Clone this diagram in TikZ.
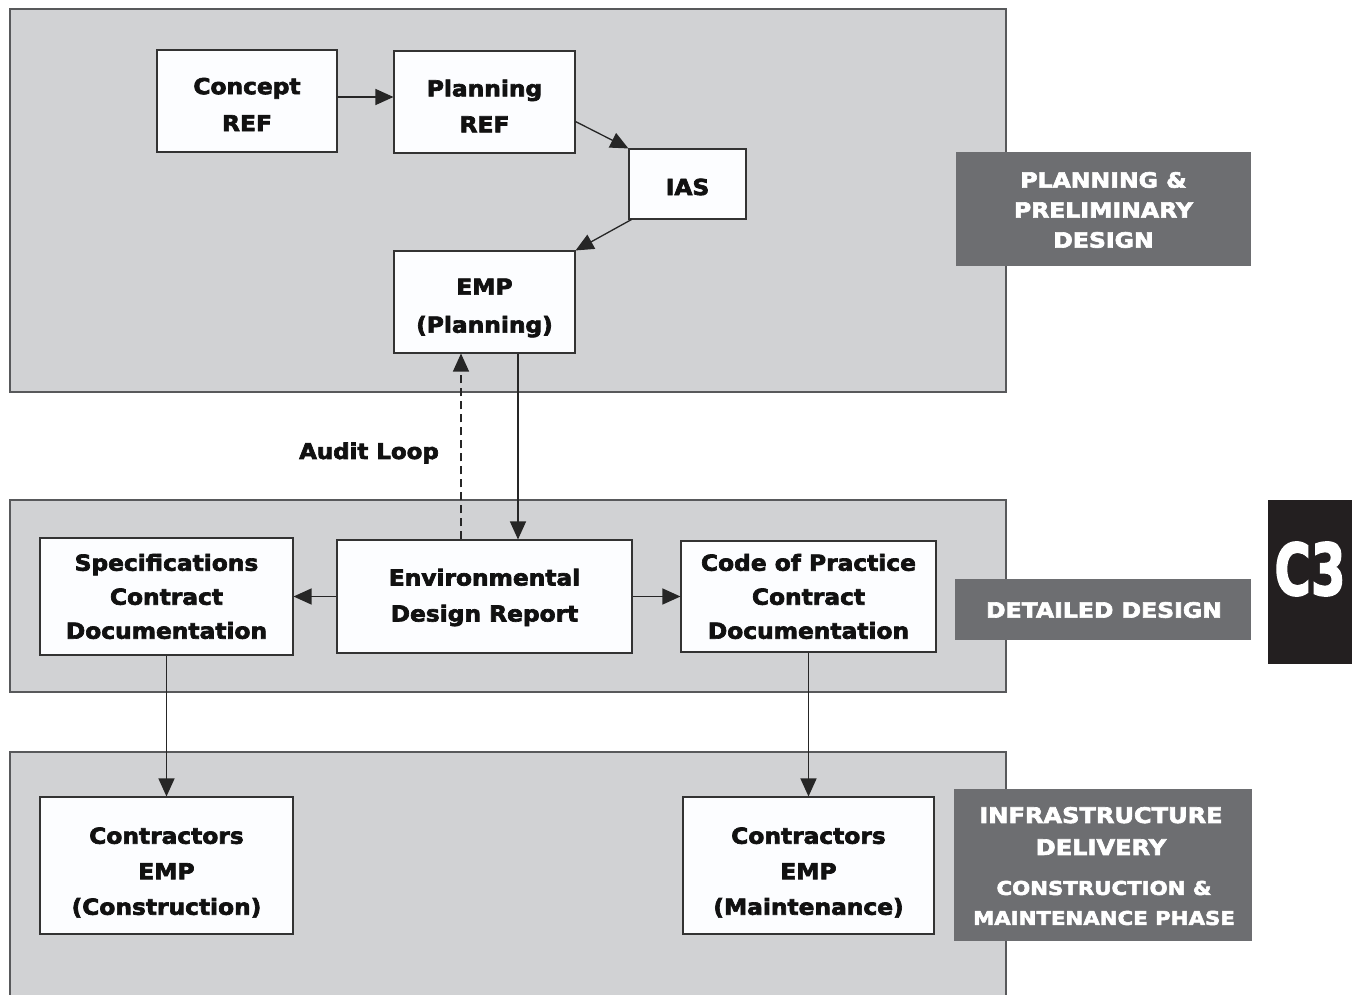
\documentclass[tikz,border=0pt]{standalone}
\usepackage{fontspec}
\usepackage{graphicx}
\setmainfont[FakeStretch=1.06,BoldFeatures={FakeBold=3}]{DejaVu Sans}
\newfontfamily\tagfont[FakeStretch=1.12,BoldFeatures={FakeBold=3}]{DejaVu Sans}
\usetikzlibrary{arrows.meta,calc}
\definecolor{panel}{HTML}{D1D2D4}
\definecolor{panelline}{HTML}{58595B}
\definecolor{tag}{HTML}{6D6E71}
\definecolor{boxfill}{HTML}{FCFDFF}
\definecolor{ink}{HTML}{111111}
\definecolor{tabblack}{HTML}{231F20}
\begin{document}
\begin{tikzpicture}[x=1pt,y=-1pt,
  panelbox/.style={fill=panel,draw=panelline,line width=1.2pt},
  boxnode/.style={draw=black!80,line width=1.1pt,fill=boxfill,inner sep=0pt},
  boxtext/.style={align=center,text=ink,inner sep=0pt,font=\fontsize{22}{36}\selectfont\bfseries},
  tagnode/.style={fill=tag,inner sep=0pt},
  tagtext/.style={text=white,align=center,inner sep=0pt},
  arr/.style={line width=1.3pt,draw=black!85,-{Triangle[length=18pt,width=16pt]}},
  dasharr/.style={arr,dash pattern=on 8pt off 5pt}]
\useasboundingbox (0,0) rectangle (1359,995);
\fill[white] (0,0) rectangle (1359,995);
% panels
\draw[panelbox] (10,9) rectangle (1006,392);
\draw[panelbox] (10,500) rectangle (1006,692);
\fill[panel] (10,752) rectangle (1006,995);
\draw[panelline,line width=1.2pt] (10,995) -- (10,752) -- (1006,752) -- (1006,995);
% boxes
\node[boxnode,minimum width=180pt,minimum height=102pt,
  label={[boxtext,font=\fontsize{22}{37}\selectfont\bfseries,yshift=-3.5pt]center:Concept\\REF}] (concept) at (247,101) {};
\node[boxnode,minimum width=181pt,minimum height=102pt,
  label={[boxtext,yshift=-4pt]center:Planning\\REF}] (pref) at (484.5,102) {};
\node[boxnode,minimum width=117pt,minimum height=70pt,
  label={[boxtext,yshift=-3pt]center:IAS}] (ias) at (687.5,184) {};
\node[boxnode,minimum width=181pt,minimum height=102pt,
  label={[boxtext,font=\fontsize{22}{38}\selectfont\bfseries,yshift=-6pt]center:EMP\\(Planning)}] (emp) at (484.5,302) {};
\node[boxnode,minimum width=295pt,minimum height=113pt,
  label={[boxtext,yshift=-1pt]center:Environmental\\Design Report}] (edr) at (484.5,596.5) {};
\node[boxnode,minimum width=253pt,minimum height=117pt,
  label={[boxtext,font=\fontsize{22}{34}\selectfont\bfseries,yshift=0pt]center:Specifications\\Contract\\Documentation}] (spec) at (166.5,596.5) {};
\node[boxnode,minimum width=255pt,minimum height=111pt,
  label={[boxtext,font=\fontsize{22}{34}\selectfont\bfseries,yshift=0pt]center:Code of Practice\\Contract\\Documentation}] (code) at (808.5,596.5) {};
\node[boxnode,minimum width=253pt,minimum height=137pt,
  label={[boxtext,font=\fontsize{22}{35.5}\selectfont\bfseries,yshift=-7pt]center:Contractors\\EMP\\(Construction)}] (cc) at (166.5,865.5) {};
\node[boxnode,minimum width=251pt,minimum height=137pt,
  label={[boxtext,font=\fontsize{22}{35.5}\selectfont\bfseries,yshift=-7pt]center:Contractors\\EMP\\(Maintenance)}] (cm) at (808.5,865.5) {};
% audit label
\node[text=ink,font=\fontsize{21.6}{26}\selectfont\bfseries] (audit) at (369,453) {Audit Loop};
% connectors
\draw[arr] ([yshift=4pt]concept.east) -- ([yshift=4pt]concept.east -| pref.west);
\draw[arr] ([yshift=32pt]pref.south east) -- (ias.north west);
\draw[arr] ([xshift=3pt]ias.south west) -- (emp.north east);
\draw[arr] ([xshift=33.5pt]emp.south) -- ([xshift=33.5pt]edr.north);
\draw[dasharr] ([xshift=-23.5pt]edr.north) -- ([xshift=-23.5pt]emp.south);
\draw[arr] (edr.west) -- (spec.east);
\draw[arr] (edr.east) -- (code.west);
\draw[arr] (spec.south) -- (cc.north);
\draw[arr] (code.south) -- (cm.north);
% phase tags
\node[tagnode,minimum width=295pt,minimum height=114pt] (t1) at (1103.5,209) {};
\node[tagtext,font=\tagfont\bfseries\fontsize{21}{30}\selectfont] (t1txt) at (1103.5,210) {PLANNING \&\\PRELIMINARY\\DESIGN};
\node[tagnode,minimum width=296pt,minimum height=61pt] (t2) at (1103,609.5) {};
\node[tagtext,font=\tagfont\bfseries\fontsize{21}{30}\selectfont] (t2txt) at (1104,610) {DETAILED DESIGN};
\node[tagnode,minimum width=298pt,minimum height=152pt] (t3) at (1103,865) {};
\node[tagtext,font=\tagfont\bfseries\fontsize{21.5}{32}\selectfont] (t3a) at (1101,831) {INFRASTRUCTURE\\DELIVERY};
\node[tagtext,font=\tagfont\bfseries\fontsize{19}{30}\selectfont] (t3b) at (1104,903) {CONSTRUCTION \&\\MAINTENANCE PHASE};
% C3 tab
\node[fill=tabblack,minimum width=84pt,minimum height=164pt,inner sep=0pt] (c3) at (1310,582) {};
\node[text=white,inner sep=0pt,font=\bfseries\fontsize{71}{71}\selectfont] (c3txt) at (1310,569) {\scalebox{0.66}[1]{C3}};
\end{tikzpicture}
\end{document}
